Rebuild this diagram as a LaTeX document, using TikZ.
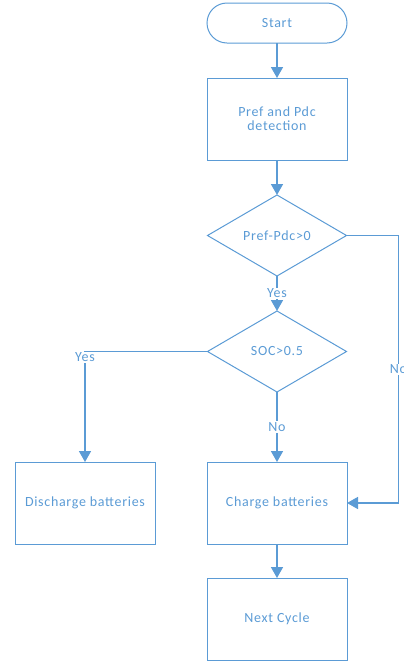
\documentclass[tikz,border=0pt]{standalone}
\usepackage{fontspec}
\setmainfont{Carlito}[LetterSpace=5]
\usetikzlibrary{positioning,shapes.geometric,arrows.meta}
\definecolor{flowblue}{RGB}{91,155,213}

\begin{document}
\begin{tikzpicture}[x=1pt, y=-1pt, node distance={35pt},
    every node/.style = {text=flowblue, outer sep=0pt, font=\fontsize{14}{14}\selectfont},
    term/.style = {draw=flowblue, line width=1pt, rounded corners=20pt, minimum width=140pt, minimum height=40pt},
    proc/.style = {draw=flowblue, line width=1pt, minimum width=140pt, minimum height=82pt, align=center},
    dec/.style = {draw=flowblue, line width=1pt, diamond, inner sep=0pt, minimum width=139pt, minimum height=81pt},
    arr/.style = {draw=flowblue, line width=1.6pt, -{Triangle[width=12pt,length=11pt]}},
    lbl/.style = {fill=white, inner sep=1pt}]
        \useasboundingbox (0,0) rectangle (404,662);
        \node[term] (start) at (277,23) {Start};
        \node[proc] (detect) [below=of start] {Pref and Pdc\\detection};
        \node[dec] (cmp) [below=of detect] {Pref-Pdc>0};
        \node[dec] (soc) [below=of cmp] {SOC>0.5};
        \node[proc] (charge) [below=70pt of soc] {Charge batteries};
        \node[proc] (discharge) [left=52pt of charge] {Discharge batteries};
        \node[proc] (next) [below=34pt of charge] {Next Cycle};
        \coordinate (bend) at ([xshift=52pt]cmp.east);
        \draw[arr] (start) -- (detect);
        \draw[arr] (detect) -- (cmp);
        \draw[arr] (cmp) -- node[lbl] {Yes} (soc);
        \draw[arr] (soc) -- node[lbl] {No} (charge);
        \draw[arr] (charge) -- (next);
        \draw[arr] (soc.west) -| node[lbl, pos=0.5, yshift=-6pt] {Yes} (discharge.north);
        \draw[arr] (cmp.east) -- (bend) -- node[lbl] {No} (bend |- charge.east) -- (charge.east);
    \end{tikzpicture}
\end{document}
